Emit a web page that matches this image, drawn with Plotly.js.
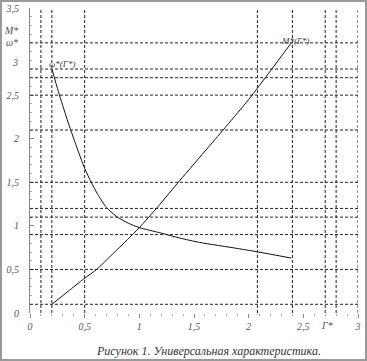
<!DOCTYPE html>
<html>
<head>
<meta charset="utf-8">
<script src="https://cdn.plot.ly/plotly-3.0.1.min.js"></script>
<style>
html,body{margin:0;padding:0;background:#fff;}
#wrap{position:relative;width:367px;height:361px;overflow:hidden;}
#chart{position:absolute;left:0;top:0;width:367px;height:361px;}
#frame{position:absolute;left:0;top:0;width:367px;height:361px;box-sizing:border-box;border:2px solid #9a9a9a;pointer-events:none;}
</style>
</head>
<body>
<div id="wrap"><div id="chart"></div><div id="frame"></div></div>
<script>
// Data
const gammaOmega = [0.2, 0.26, 0.34, 0.42, 0.50, 0.56, 0.62, 0.70, 0.80, 0.90, 1.0, 1.19, 1.37, 1.55, 1.9, 2.09, 2.39];
const omegaVals  = [2.8, 2.54, 2.22, 1.93, 1.66, 1.5, 1.36, 1.21, 1.10, 1.03, 0.98, 0.92, 0.86, 0.81, 0.74, 0.70, 0.63];
const gammaM = [0.2, 0.35, 0.49, 0.61, 0.75, 0.89, 1.0, 1.17, 1.37, 1.63, 1.8, 2.0, 2.2, 2.39];
const mVals  = [0.10, 0.25, 0.39, 0.50, 0.67, 0.84, 0.98, 1.22, 1.52, 1.9, 2.15, 2.45, 2.78, 3.1];
const hGrid = [0.1, 0.5, 0.9, 1.1, 1.2, 1.5, 2.1, 2.5, 2.7, 2.8, 3.1];
const vGrid = [0.1, 0.2, 0.5, 2.08, 2.4, 2.7, 2.8, 3.0];
const xTickVals = [0, 0.5, 1, 1.5, 2, 2.5, 3];
const xTickText = ['0', '0,5', '1', '1,5', '2', '2,5', '3'];
const yTickVals = [0, 0.5, 1, 1.5, 2, 2.5, 3.5];
const yTickText = ['0', '0,5', '1', '1,5', '2', '2,5', '3,5'];
const omegaLabel = 'ω*(Г*)';
const mLabel = 'M*(Г*)';
const caption = 'Рисунок 1. Универсальная характеристика.';

const serif = {family: '"Liberation Serif", "DejaVu Serif", serif', style: 'italic'};
const shapes = [];
hGrid.forEach(v => shapes.push({type: 'line', xref: 'x', yref: 'y', x0: 0, x1: 3, y0: v, y1: v,
  line: {color: '#222', width: 1, dash: '3px,2px'}}));
vGrid.forEach(v => shapes.push({type: 'line', xref: 'x', yref: 'y', x0: v, x1: v, y0: 0, y1: 3.5,
  line: {color: '#222', width: 1, dash: '3px,2px'}}));

const traces = [
  {x: gammaOmega, y: omegaVals, mode: 'lines', line: {color: '#111', width: 1, shape: 'spline', smoothing: 0.6}, hoverinfo: 'skip'},
  {x: gammaM, y: mVals, mode: 'lines', line: {color: '#111', width: 1, shape: 'spline', smoothing: 0.6}, hoverinfo: 'skip'}
];

const annFont = Object.assign({}, serif, {size: 10, color: '#555'});
const layout = {
  width: 367, height: 361,
  margin: {l: 30, r: 9, t: 8, b: 48},
  paper_bgcolor: '#fff', plot_bgcolor: '#fff',
  showlegend: false,
  xaxis: {range: [0, 3], showgrid: false, zeroline: false, showline: false,
    tickmode: 'array', tickvals: xTickVals, ticktext: xTickText,
    ticks: 'outside', ticklen: 4, tickcolor: '#888', tickwidth: 1,
    minor: {ticks: 'outside', dtick: 0.1, ticklen: 2, tickcolor: '#aaa'},
    tickfont: Object.assign({}, serif, {size: 10, color: '#555'}), fixedrange: true},
  yaxis: {range: [0, 3.5], showgrid: false, zeroline: false, showline: true, linecolor: '#888', linewidth: 1,
    tickmode: 'array', tickvals: yTickVals, ticktext: yTickText,
    ticks: 'inside', ticklen: 4, tickcolor: '#888', ticklabelstandoff: 8,
    minor: {ticks: 'inside', dtick: 0.1, ticklen: 2, tickcolor: '#aaa'},
    tickfont: Object.assign({}, serif, {size: 10, color: '#555'}), fixedrange: true},
  shapes: shapes,
  annotations: [
    {xref: 'paper', yref: 'y', x: -0.03, y: 3.24, xanchor: 'right', yanchor: 'middle', text: 'M*', showarrow: false, font: annFont},
    {xref: 'paper', yref: 'y', x: -0.03, y: 3.1, xanchor: 'right', yanchor: 'middle', text: 'ω*', showarrow: false, font: annFont},
    {xref: 'paper', yref: 'y', x: -0.03, y: 2.87, xanchor: 'right', yanchor: 'middle', text: '3', showarrow: false, font: annFont},
    {xref: 'x', yref: 'paper', x: 2.72, y: 0, yshift: -12, xanchor: 'center', yanchor: 'middle', text: 'Г*', showarrow: false, font: annFont},
    {xref: 'x', yref: 'y', x: 0.29, y: 2.86, xanchor: 'center', yanchor: 'middle', text: omegaLabel, showarrow: false, font: Object.assign({}, serif, {size: 9, color: '#444'})},
    {xref: 'x', yref: 'y', x: 2.43, y: 3.12, xanchor: 'center', yanchor: 'middle', text: mLabel, showarrow: false, font: Object.assign({}, serif, {size: 9, color: '#444'})},
    {xref: 'paper', yref: 'paper', x: 0.543, y: -0.125, xanchor: 'center', yanchor: 'middle', text: caption, showarrow: false, font: Object.assign({}, serif, {size: 12, color: '#333'})}
  ]
};
Plotly.newPlot('chart', traces, layout, {staticPlot: true, displayModeBar: false});
</script>
</body>
</html>
